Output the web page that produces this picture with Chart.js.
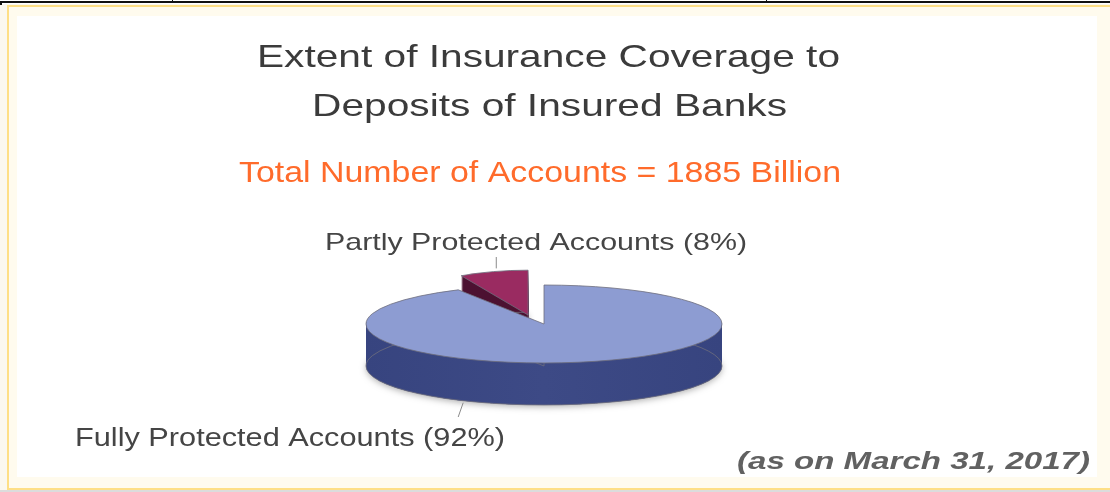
<!DOCTYPE html>
<html>
<head>
<meta charset="utf-8">
<title>Extent of Insurance Coverage</title>
<script src="https://cdn.jsdelivr.net/npm/chart.js@4.4.0/dist/chart.umd.min.js"></script>
<style>
  html, body { margin: 0; padding: 0; background: #fff; }
  body { width: 1110px; height: 492px; position: relative; overflow: hidden; }
  #topline { position: absolute; left: 0; top: 1px; width: 1110px; height: 2px; background: #111; }
  .tick { position: absolute; top: 0; width: 1px; height: 2px; background: #111; }
  #corner { position: absolute; left: 0; top: 3px; width: 2px; height: 2px; background: #111; }
  #pale { position: absolute; left: 0; top: 4px; width: 1110px; height: 486px; background: #fbf8ef; }
  #shadow { position: absolute; left: 0; top: 490px; width: 1110px; height: 2px; background: #dcdcdc; }
  #frame { position: absolute; left: 7px; top: 5px; width: 1120px; height: 481px;
           border: 2px solid #fedf86; background: #fffbee; }
  #inner { position: absolute; left: 17px; top: 16px; width: 1080px; height: 461px; background: #fff; }
  canvas { position: absolute; left: 0; top: 0; }
</style>
</head>
<body>
<div id="pale"></div>
<div id="shadow"></div>
<div id="frame"></div>
<div id="inner"></div>
<div id="topline"></div>
<div class="tick" style="left:172px"></div>
<div class="tick" style="left:766px"></div>
<div id="corner"></div>
<canvas id="myChart" width="1110" height="492"></canvas>
<script>
// data
const labels = ['Fully Protected Accounts', 'Partly Protected Accounts'];
const shares = [92, 8];
const titleLines = ['Extent of Insurance Coverage to', 'Deposits of Insured Banks'];
const totalAccounts = 1885;
const asOn = 'March 31, 2017';

// look
const topColors = ['#8d9cd2', '#9a2b61'];
const sideColors = ['#37447f', '#4c1131'];
const explode = [0, 64];
const explodeTilt = 0.145;
const scaleX = [1, 0.78];   // the pulled-out slice sits further back, so it looks narrower
const scaleY = [1, 1.15];
const tilt = 0.219;
const depth = 42;
const edgeColor = 'rgba(110,110,125,0.8)';

const slicePath = (ctx, g, dy) => {
    ctx.beginPath();
    ctx.moveTo(g.cx, g.cy + dy);
    ctx.ellipse(g.cx, g.cy + dy, g.rx, g.ry, 0, g.start, g.end);
    ctx.closePath();
};

const geom = (chart) => {
    const arcs = chart.getDatasetMeta(0).data;
    return arcs.map((arc, i) => {
        const p = arc.getProps(['x', 'y', 'startAngle', 'endAngle', 'outerRadius'], true);
        const mid = (p.startAngle + p.endAngle) / 2;
        return {
            i: i,
            cx: p.x + Math.cos(mid) * explode[i],
            cy: p.y + Math.sin(mid) * explode[i] * explodeTilt,
            rx: p.outerRadius * scaleX[i],
            ry: p.outerRadius * tilt * scaleY[i],
            start: p.startAngle,
            end: p.endAngle,
            mid: mid
        };
    });
};

const pie3d = {
    id: 'pie3d',
    beforeDatasetsDraw(chart) {
        const ctx = chart.ctx;
        // back slices first
        const slices = geom(chart).sort((a, b) => Math.sin(a.mid) - Math.sin(b.mid));
        slices.forEach(g => {
            ctx.save();
            // soft shadow under the deepest layer
            ctx.shadowColor = 'rgba(0,0,0,0.3)';
            ctx.shadowBlur = 6;
            ctx.shadowOffsetY = 2;
            ctx.fillStyle = sideColors[g.i];
            slicePath(ctx, g, depth);
            ctx.fill();
            ctx.restore();

            const grad = ctx.createLinearGradient(g.cx - g.rx, 0, g.cx + g.rx, 0);
            grad.addColorStop(0, sideColors[g.i]);
            grad.addColorStop(0.5, g.i === 0 ? '#3d4a86' : sideColors[g.i]);
            grad.addColorStop(1, sideColors[g.i]);
            ctx.fillStyle = grad;
            for (let d = depth; d > 0; d--) {
                slicePath(ctx, g, d);
                ctx.fill();
            }
            ctx.lineWidth = 1;
            ctx.strokeStyle = edgeColor;
            slicePath(ctx, g, depth);
            ctx.stroke();

            ctx.fillStyle = topColors[g.i];
            slicePath(ctx, g, 0);
            ctx.fill();
            ctx.stroke();
        });
        return false;
    }
};

const fitText = (ctx, text, x0, x1, baseline, font, color) => {
    ctx.save();
    ctx.font = font;
    ctx.fillStyle = color;
    ctx.textAlign = 'left';
    ctx.textBaseline = 'alphabetic';
    const w = ctx.measureText(text).width;
    ctx.translate(x0, baseline);
    ctx.scale((x1 - x0) / w, 1);
    ctx.fillText(text, 0, 0);
    ctx.restore();
};

const pointOn = (g, t, dy) => {
    const a = g.start + (g.end - g.start) * t;
    return { x: g.cx + Math.cos(a) * g.rx, y: g.cy + Math.sin(a) * g.ry + dy };
};

const texts = {
    id: 'texts',
    afterDraw(chart) {
        const ctx = chart.ctx;
        const font = '"Liberation Sans", Arial, sans-serif';
        fitText(ctx, titleLines[0], 257, 840, 67, '32px ' + font, '#3b3b3b');
        fitText(ctx, titleLines[1], 312, 787, 116, '32px ' + font, '#3b3b3b');
        fitText(ctx, `Total Number of Accounts = ${totalAccounts} Billion`, 239, 841, 182, '30px ' + font, '#ff6b2b');

        const g = geom(chart);
        // leader lines
        ctx.save();
        ctx.strokeStyle = '#8a8a8a';
        ctx.lineWidth = 1;
        const pp = pointOn(g[1], 0.54, 0);
        ctx.beginPath();
        ctx.moveTo(pp.x, pp.y - 3);
        ctx.lineTo(pp.x, 257);
        ctx.stroke();
        const pf = pointOn(g[0], 0.625, depth);
        ctx.beginPath();
        ctx.moveTo(pf.x, pf.y + 2);
        ctx.lineTo(pf.x - 5, 417);
        ctx.stroke();
        ctx.restore();

        fitText(ctx, `${labels[1]} (${shares[1]}%)`, 325, 747, 250, '24px ' + font, '#454545');
        fitText(ctx, `${labels[0]} (${shares[0]}%)`, 75, 505, 446, '25px ' + font, '#454545');
        fitText(ctx, `(as on ${asOn})`, 737, 1090, 469, 'italic bold 24px ' + font, '#616161');
    }
};

const config = {
    type: 'pie',
    data: {
        labels: labels,
        datasets: [{
            data: shares,
            backgroundColor: topColors,
            borderWidth: 0
        }]
    },
    options: {
        responsive: false,
        animation: false,
        events: [],
        radius: 178,
        layout: {
            padding: { left: 300, right: 322, top: 198, bottom: 42 }
        },
        plugins: {
            legend: { display: false },
            tooltip: { enabled: false },
            title: { display: false }
        }
    },
    plugins: [pie3d, texts]
};

const myChart = new Chart(document.getElementById('myChart'), config);
</script>
</body>
</html>
